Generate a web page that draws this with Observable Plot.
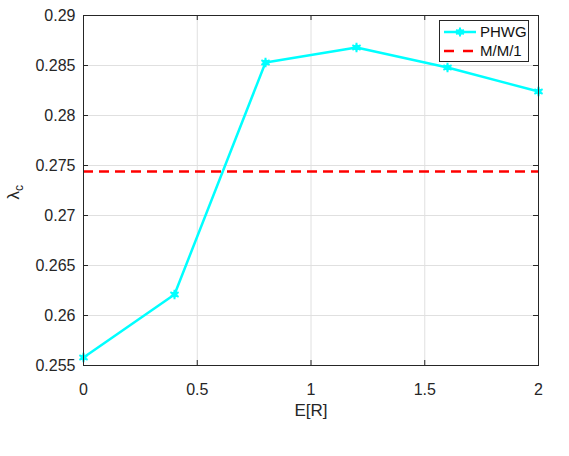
<!DOCTYPE html>
<html><head><meta charset="utf-8">
<script src="https://cdn.jsdelivr.net/npm/d3@7"></script>
<script src="https://cdn.jsdelivr.net/npm/@observablehq/plot@0.6"></script>
<style>
body{margin:0;background:#fff;font-family:"Liberation Sans",Arial,sans-serif;}
#wrap{position:relative;width:569px;height:456px;}
#ylab{position:absolute;left:8px;top:181px;transform:rotate(-90deg);transform-origin:center;font-size:17px;color:#262626;white-space:nowrap;}
#legend{position:absolute;left:439px;top:20px;width:90px;height:42px;border:1px solid #262626;background:#fff;font-size:15px;color:#111;box-sizing:border-box;}
.row{position:absolute;left:3px;display:flex;align-items:center;}
</style></head>
<body><div id="wrap"></div>
<script>
const eR = [0, 0.4, 0.8, 1.2, 1.6, 2];
const phwg = [0.2558, 0.2621, 0.2853, 0.2868, 0.2848, 0.2824];
const mm1 = 0.2744;
const xTicks = [0, 0.5, 1, 1.5, 2];
const yTicks = [0.255, 0.26, 0.265, 0.27, 0.275, 0.28, 0.285, 0.29];
const seriesNames = ["PHWG", "M/M/1"];

const W = 569, H = 456, mL = 83, mR = 31, mT = 15, mB = 91;
const fw = W - mL - mR, fh = H - mT - mB;
const data = eR.map((x, i) => ({x, y: phwg[i]}));
const axisColor = "#262626";

const chart = Plot.plot({
  width: W, height: H,
  marginLeft: mL, marginRight: mR, marginTop: mT, marginBottom: mB,
  style: {fontFamily: "'Liberation Sans', Arial, sans-serif", fontSize: "16px", color: axisColor, background: "#fff"},
  x: {domain: [0, 2], ticks: xTicks, tickFormat: d => String(d), label: null},
  y: {domain: [0.255, 0.29], ticks: yTicks, tickFormat: d => String(+d.toFixed(3)), label: null},
  marks: [
    Plot.gridX(xTicks, {stroke: "#e0e0e0", strokeOpacity: 1, strokeWidth: 1}),
    Plot.gridY(yTicks, {stroke: "#e0e0e0", strokeOpacity: 1, strokeWidth: 1}),
    Plot.axisX(xTicks, {tickSize: 0, tickPadding: 18, tickFormat: d => String(d), fontSize: 16, fill: axisColor, label: null}),
    Plot.axisY(yTicks, {tickSize: 0, tickPadding: 8, tickFormat: d => String(+d.toFixed(3)), fontSize: 16, fill: axisColor, label: null}),
    Plot.text(["E[R]"], {frameAnchor: "bottom", dy: 50, fontSize: 17, fill: axisColor}),
    Plot.tickY(yTicks, {y: d => d, stroke: axisColor, insetRight: fw - 5}),
    Plot.tickY(yTicks, {y: d => d, stroke: axisColor, insetLeft: fw - 5}),
    Plot.tickX(xTicks, {x: d => d, stroke: axisColor, insetTop: fh - 5}),
    Plot.tickX(xTicks, {x: d => d, stroke: axisColor, insetBottom: fh - 5}),
    Plot.ruleY([mm1], {stroke: "#ff0000", strokeWidth: 2.5, strokeDasharray: "10,6"}),
    Plot.line(data, {x: "x", y: "y", stroke: "#00ffff", strokeWidth: 2.5}),
    Plot.dot(data, {x: "x", y: "y", r: 3, fill: "#00ffff", stroke: "none"}),
    Plot.dot(data, {x: "x", y: "y", r: 4.5, symbol: "asterisk", stroke: "#00ffff", strokeWidth: 2}),
    Plot.frame({stroke: axisColor, strokeWidth: 1})
  ]
});
const wrap = document.getElementById("wrap");
wrap.appendChild(chart);

const ylab = document.createElement("div");
ylab.id = "ylab";
ylab.innerHTML = "λ<sub style='font-size:12px'>c</sub>";
wrap.appendChild(ylab);

const leg = document.createElement("div");
leg.id = "legend";
leg.innerHTML =
  `<div class="row" style="top:2px"><svg width="34" height="16"><line x1="1" y1="8" x2="33" y2="8" stroke="#00ffff" stroke-width="2.5"/><circle cx="17" cy="8" r="3" fill="#00ffff"/><path d="M17,3.5V12.5M13.1,5.75L20.9,10.25M13.1,10.25L20.9,5.75" stroke="#00ffff" stroke-width="2"/></svg><span style="margin-left:3px">${seriesNames[0]}</span></div>` +
  `<div class="row" style="top:21px"><svg width="34" height="16"><line x1="1" y1="8" x2="33" y2="8" stroke="#ff0000" stroke-width="2.5" stroke-dasharray="10,9"/></svg><span style="margin-left:3px">${seriesNames[1]}</span></div>`;
wrap.appendChild(leg);
</script></body></html>
